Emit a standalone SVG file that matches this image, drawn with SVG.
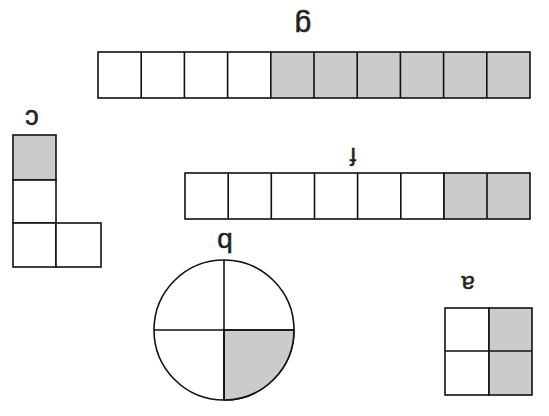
<svg xmlns="http://www.w3.org/2000/svg" width="549" height="416" viewBox="0 0 549 416">
<style>
.c{fill:#fff;stroke:#111;stroke-width:1.6}
.s{fill:#cbcbcb;stroke:#111;stroke-width:1.6}
.l{stroke:#111;stroke-width:1.6;fill:none}
.t{font-family:"Liberation Sans",Arial,sans-serif;fill:#222;text-anchor:middle;stroke:#222;stroke-width:0.5}
</style>
<rect width="549" height="416" fill="#fff"/>
<g id="g">
<rect class="c" x="98" y="52" width="172.8" height="46"/>
<rect class="s" x="270.8" y="52" width="259.2" height="46"/>
<path class="l" d="M141.2 52V98M184.4 52V98M227.6 52V98M314 52V98M357.2 52V98M400.4 52V98M443.6 52V98M486.8 52V98"/>
<text class="t" x="303" y="16" font-size="30" transform="rotate(180 303 16)">g</text>
</g>
<g id="c">
<rect class="s" x="13" y="135" width="43" height="45"/>
<rect class="c" x="13" y="180" width="43" height="43"/>
<rect class="c" x="13" y="223" width="43" height="44"/>
<rect class="c" x="56" y="223" width="45" height="44"/>
<text class="t" x="32" y="110" font-size="27" transform="rotate(180 32 110)">c</text>
</g>
<g id="f">
<rect class="c" x="185" y="173" width="259" height="46"/>
<rect class="s" x="444" y="173" width="86" height="46"/>
<path class="l" d="M228.2 173V219M271.3 173V219M314.5 173V219M357.6 173V219M400.8 173V219M487 173V219"/>
<text class="t" x="353" y="148" font-size="23" transform="rotate(180 353 148)">f</text>
</g>
<g id="b">
<circle class="c" cx="224" cy="330" r="70"/>
<path class="s" d="M224 330H294A70 70 0 0 1 224 400Z"/>
<path class="l" d="M224 260V400M154 330H294"/>
<text class="t" x="225" y="233" font-size="28" transform="rotate(180 225 233)">b</text>
</g>
<g id="a">
<rect class="c" x="445" y="308" width="44" height="87"/>
<rect class="s" x="489" y="308" width="43" height="87"/>
<path class="l" d="M445 351H532"/>
<text class="t" x="468" y="276" font-size="24" transform="rotate(180 468 276)">a</text>
</g>
</svg>
